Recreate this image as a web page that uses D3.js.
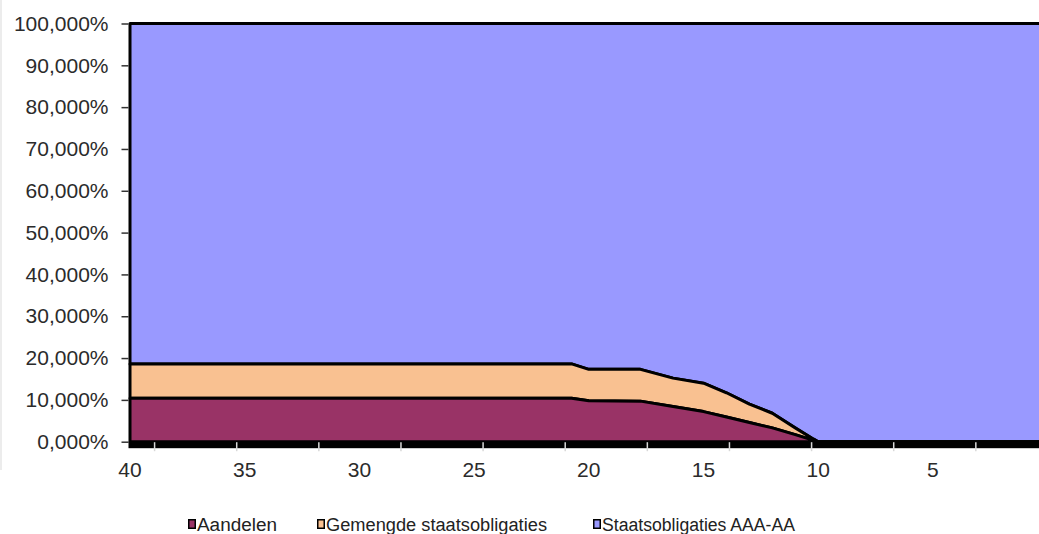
<!DOCTYPE html>
<html>
<head>
<meta charset="utf-8">
<script src="https://cdn.jsdelivr.net/npm/d3@7"></script>
<style>
  html, body { margin: 0; padding: 0; background: #fff; }
  svg { display: block; }
  text { font-family: "Liberation Sans", Arial, sans-serif; }
</style>
</head>
<body>
<svg id="chart" width="1039" height="534"></svg>
<script>
// ---- data (years remaining until target date; percentages) ----
const years     = [40,   20.75, 20,   17.75, 16.33, 15,   14,   13,   12,   11,   10.2, 10,  0];
const aandelen  = [10.4, 10.4,  9.8,  9.7,   8.4,   7.2,  5.9,  4.6,  3.3,  1.7,  0.3,  0,   0];
const gemengde  = [8.2,  8.2,   7.5,  7.6,   6.8,   6.8,  5.8,  4.4,  3.5,  1.6,  0.3,  0,   0];
const staatsAAA = years.map((_, i) => 100 - aandelen[i] - gemengde[i]);

const seriesNames  = ["Aandelen", "Gemengde staatsobligaties", "Staatsobligaties AAA-AA"];
const seriesColors = ["#993366", "#F9C191", "#9999FF"];

const yTickValues  = [0, 10, 20, 30, 40, 50, 60, 70, 80, 90, 100];
const xLabelValues = [40, 35, 30, 25, 20, 15, 10, 5];
const xTickMarks   = [38.95, 35.37, 31.79, 28.21, 24.63, 21.05, 17.47, 13.89, 10.31, 6.73, 3.15];

// ---- layout ----
const svg = d3.select("#chart");
const x = d3.scaleLinear().domain([40, 0]).range([130, 1047.6]);
const y = d3.scaleLinear().domain([0, 100]).range([441.7, 23.5]);

const rows = years.map((yr, i) => ({
  year: yr,
  [seriesNames[0]]: aandelen[i],
  [seriesNames[1]]: gemengde[i],
  [seriesNames[2]]: staatsAAA[i]
}));
const stacked = d3.stack().keys(seriesNames)(rows);

const area = d3.area()
  .x(d => x(d.data.year))
  .y0(d => y(d[0]))
  .y1(d => y(d[1]));

// draw top series first so lower areas' outlines remain visible
const layers = stacked.slice().reverse();
svg.append("g").selectAll("path")
  .data(layers)
  .join("path")
  .attr("d", area)
  .attr("fill", d => seriesColors[seriesNames.indexOf(d.key)])
  .attr("stroke", "#000")
  .attr("stroke-width", 3)
  .attr("stroke-linejoin", "round");

// ---- x axis (thick black band + light ticks) ----
svg.append("rect")
  .attr("x", x(40) - 1.5).attr("y", y(0))
  .attr("width", 1039).attr("height", 6.5)
  .attr("fill", "#000");

const xAxis = d3.axisBottom(x).tickValues(xTickMarks).tickSize(9).tickFormat("");
const gx = svg.append("g").attr("transform", `translate(0,${y(0) + 0.5})`).call(xAxis);
gx.select(".domain").remove();
gx.selectAll(".tick line").attr("stroke", "#d8d8d8").attr("stroke-width", 1.5);

svg.append("g").selectAll("text")
  .data(xLabelValues)
  .join("text")
  .attr("x", d => x(d))
  .attr("y", 477)
  .attr("text-anchor", "middle")
  .attr("font-size", 21)
  .attr("fill", "#2b2b2b")
  .text(d => d);

// ---- y axis ----
const yAxis = d3.axisLeft(y).tickValues(yTickValues).tickSize(7)
  .tickFormat(d => d3.format(".3f")(d).replace(".", ",") + "%");
const gy = svg.append("g").attr("transform", `translate(${x(40) - 1.5},0)`).call(yAxis);
gy.select(".domain").remove();
gy.selectAll(".tick line").attr("stroke", "#333").attr("stroke-width", 1.5);
gy.selectAll(".tick text")
  .attr("x", -20)
  .attr("font-size", 21)
  .attr("font-family", "Liberation Sans, Arial, sans-serif")
  .attr("fill", "#2b2b2b");

// ---- legend ----
const legendX = [188, 317, 593];
const legendW = [80, 221, 193];
const lg = svg.append("g").selectAll("g")
  .data(seriesNames)
  .join("g")
  .attr("transform", (d, i) => `translate(${legendX[i]},0)`);
lg.append("rect")
  .attr("x", 0.75).attr("y", 519.75)
  .attr("width", 6.5).attr("height", 8.5)
  .attr("fill", (d, i) => seriesColors[i])
  .attr("stroke", "#000").attr("stroke-width", 1.5);
lg.append("text")
  .attr("x", 9).attr("y", 531)
  .attr("font-size", 18)
  .attr("fill", "#222")
  .attr("textLength", (d, i) => legendW[i])
  .attr("lengthAdjust", "spacingAndGlyphs")
  .text(d => d);

// faint left border
svg.append("line").attr("x1", 1).attr("x2", 1).attr("y1", 0).attr("y2", 470)
  .attr("stroke", "#ececec").attr("stroke-width", 2);
</script>
</body>
</html>
